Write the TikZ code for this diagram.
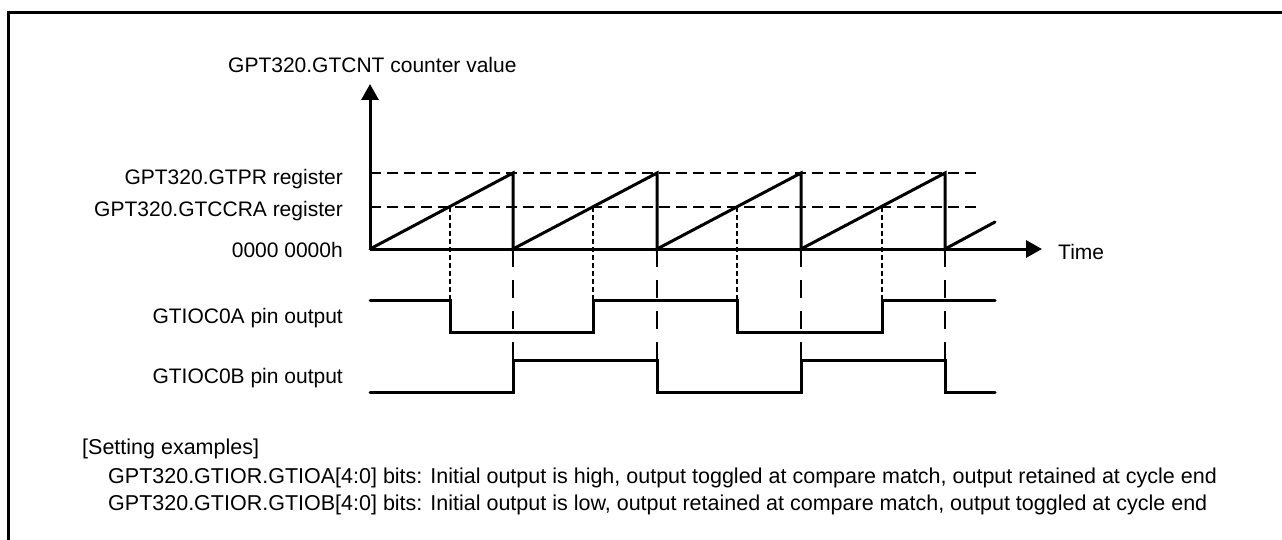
\documentclass[tikz,border=0pt]{standalone}
\usepackage{fontspec}
\setmainfont{Liberation Sans}
\usetikzlibrary{arrows.meta}
\begin{document}
\begin{tikzpicture}[x=1pt,y=-1pt,
  lbl/.style={font=\fontsize{21}{25}\selectfont, inner sep=0pt},
  note/.style={font=\fontsize{21.5}{25}\selectfont, inner sep=0pt},
  sig/.style={line width=3pt, line join=miter, line cap=round},
  refline/.style={line width=2pt, dash pattern=on 11pt off 6pt},
  cmpline/.style={line width=2pt, dash pattern=on 5pt off 3pt},
  endline/.style={line width=2pt, dash pattern=on 18pt off 13pt},
  axisarrow/.style={line width=3pt, -{Triangle[length=16pt,width=17pt]}}
]
\useasboundingbox (0,0) rectangle (1282,540);
\draw[line width=2.5pt] (8.5,540) -- (8.5,12.5) -- (1282,12.5);

% axes
\coordinate (O) at (370,249);
\coordinate (Ytip) at (370,84);
\coordinate (Xtip) at (1042,249);

% reference levels
\draw[refline] (370,173) -- (978,173);
\draw[refline] (370,207) -- (978,207);

% compare match lines
\foreach \x in {450,593,737,882}
  \draw[cmpline] (\x,207) -- (\x,300);
% cycle end lines
\foreach \x in {513,657,801,945}
  \draw[endline] (\x,249) -- (\x,360);

\draw[axisarrow] (O) -- (Ytip);
\draw[axisarrow] (O) -- (Xtip);

% counter sawtooth
\draw[sig] (O) -- (513,173) -- (513,249) -- (657,173) -- (657,249) -- (801,173) -- (801,249) -- (945,173) -- (945,249) -- (995,222);

% GTIOC0A
\draw[sig] (370,300) -- (450,300) -- (450,332) -- (593,332) -- (593,300) -- (737,300) -- (737,332) -- (882,332) -- (882,300) -- (995,300);
% GTIOC0B
\draw[sig] (370,392) -- (513,392) -- (513,360) -- (657,360) -- (657,392) -- (801,392) -- (801,360) -- (945,360) -- (945,392) -- (995,392);

% labels
\node[lbl, anchor=base west] (ylab) at (228,73) {GPT320.GTCNT counter value};
\node[lbl, anchor=base west] (time) at (1058,259) {Time};
\node[lbl, anchor=base east] (pr) at (343,185) {GPT320.GTPR register};
\node[lbl, anchor=base east] (ccra) at (343,217) {GPT320.GTCCRA register};
\node[lbl, anchor=base east] (zero) at (343,257) {0000 0000h};
\node[lbl, anchor=base east] (pa) at (343,323) {GTIOC0A pin output};
\node[lbl, anchor=base east] (pb) at (343,383) {GTIOC0B pin output};

\node[note, anchor=base west] (set) at (82,454) {[Setting examples]};
\node[note, anchor=base west] (la) at (108,483) {GPT320.GTIOR.GTIOA[4:0] bits: Initial output is high, output toggled at compare match, output retained at cycle end};
\node[note, anchor=base west] (lb) at (108,510) {GPT320.GTIOR.GTIOB[4:0] bits: Initial output is low, output retained at compare match, output toggled at cycle end};
\end{tikzpicture}
\end{document}
